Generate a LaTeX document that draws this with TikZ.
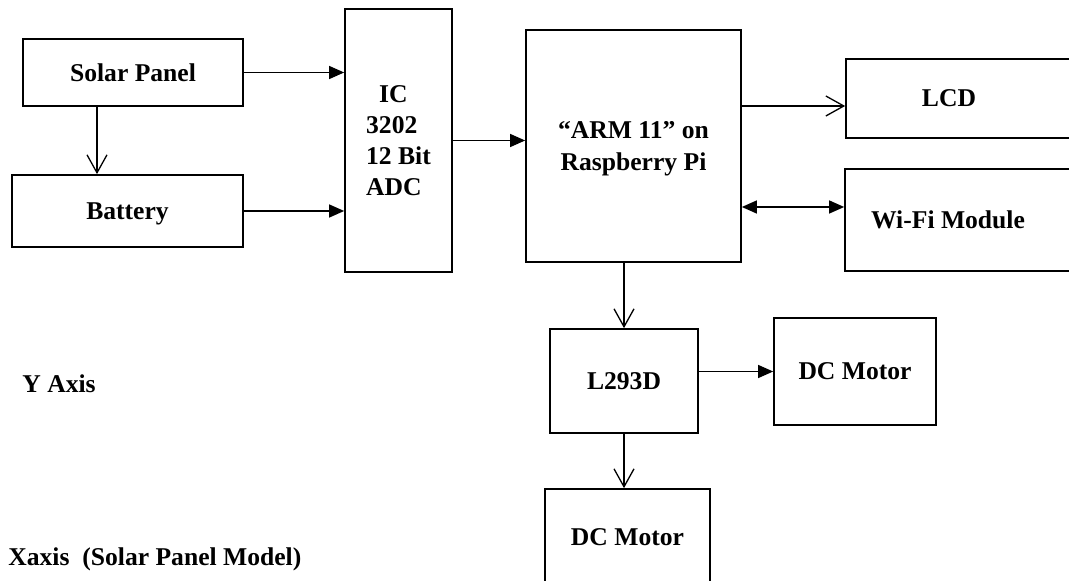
\documentclass[tikz,border=0pt]{standalone}
\usepackage{fontspec}
\setmainfont{Liberation Serif}
\usetikzlibrary{calc}
\usetikzlibrary{arrows.meta}

\tikzset{
  block/.style = {rectangle, draw = black, line width = 0.85pt, font = \fontsize{12.8}{15.5}\selectfont\bfseries, align = center, text depth = 0pt},
  axislabel/.style = {font = \fontsize{12.8}{15.5}\selectfont\bfseries, inner sep = 0pt, anchor = base west},
  link/.style = {line width = 0.65pt},
  solid tip/.style = {-{Triangle[length = 7.5pt, width = 6.5pt]}},
  both tips/.style = {{Triangle[length = 7.5pt, width = 6.5pt]}-{Triangle[length = 7.5pt, width = 6.5pt]}},
  open tip/.style = {-{Straight Barb[length = 9pt, width = 10pt]}}
}

\begin{document}
\begin{tikzpicture}[x = 0.5pt, y = -0.5pt]
\useasboundingbox (0,0) rectangle (1069,581);
\clip (0,0) rectangle (1069,581);

\draw (133,72.5) node[name = solar, block, minimum width = 110pt, minimum height = 33.5pt]{Solar Panel};
\draw (127.5,211) node[name = battery, block, minimum width = 115.5pt, minimum height = 36pt]{Battery};
\draw (398.5,140.5) node[name = adc, block, minimum width = 53.5pt, minimum height = 131.5pt, align = left]{\hspace*{6.5pt}IC\\3202\\12 Bit\\ADC};
\draw (633.5,146) node[name = arm, block, minimum width = 107.5pt, minimum height = 116pt, font = \fontsize{12.8}{16}\selectfont\bfseries]{“ARM 11” on\\Raspberry Pi};
\draw (968,98.5) node[name = lcd, block, minimum width = 122pt, minimum height = 39.5pt]{LCD\hspace*{19pt}};
\draw (967.5,220) node[name = wifi, block, minimum width = 122.5pt, minimum height = 51pt]{Wi-Fi Module\hspace*{19.5pt}};
\draw (624,381) node[name = driver, block, minimum width = 74pt, minimum height = 52pt]{L293D};
\draw (855,371.5) node[name = motorr, block, minimum width = 81pt, minimum height = 53.5pt]{DC Motor};
\draw (627.5,537) node[name = motorb, block, minimum width = 82.5pt, minimum height = 48pt]{DC Motor};

\draw (22,393) node[name = ylabel, axislabel]{Y Axis};
\draw (8,566) node[name = xlabel, axislabel]{Xaxis\ \ (Solar Panel Model)};

\draw[link, solid tip] (solar.east) -- (solar.east -| adc.west);
\draw[link, solid tip] (battery.east) -- (battery.east -| adc.west);
\draw[link, open tip] ([xshift = -18pt]solar.south) -- ([xshift = -18pt]solar.south |- battery.north);
\draw[link, solid tip] (adc.east) -- (adc.east -| arm.west);
\draw[link, open tip] ($(lcd.west -| arm.east) + (0,7.5)$) -- ($(lcd.west) + (0,7.5)$);
\draw[link, both tips] ($(wifi.west -| arm.east) + (0,-13)$) -- ($(wifi.west) + (0,-13)$);
\draw[link, open tip] (arm.south -| driver.north) -- (driver.north);
\draw[link, solid tip] (driver.east |- motorr.west) -- (motorr.west);
\draw[link, open tip] (driver.south) -- (driver.south |- motorb.north);

\end{tikzpicture}
\end{document}
